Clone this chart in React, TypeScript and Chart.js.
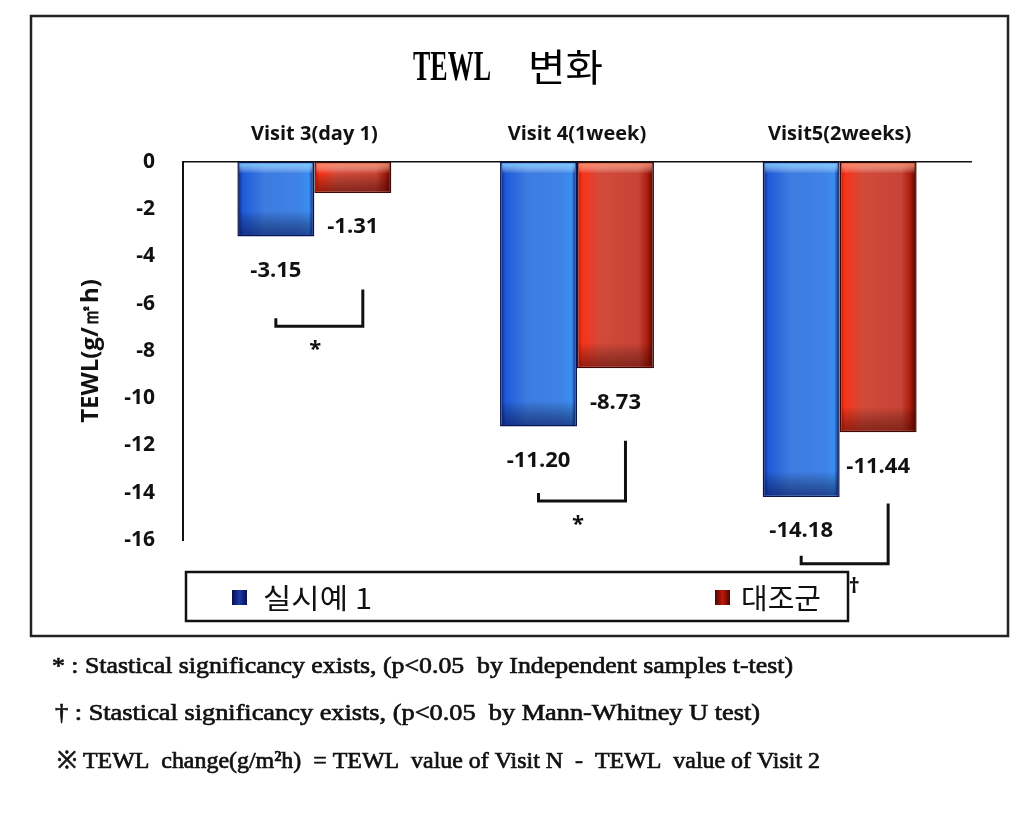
import React, { useEffect, useRef } from 'react';
import { Chart, registerables } from 'chart.js';

Chart.register(...registerables);

// ---------- data ----------
const categories = ['Visit 3(day 1)', 'Visit 4(1week)', 'Visit5(2weeks)'];
const seriesNames = ['실시예 1', '대조군'];
const example1Values = [-3.15, -11.2, -14.18];
const controlValues = [-1.31, -8.73, -11.44];
const yMin = -16;
const yMax = 0;
const yStep = 2;
const titleLatin = 'TEWL';
const titleKorean = '변화';
const yAxisTitle = 'TEWL(g/㎡h)';
const sigMarks = ['*', '*', '†'];
const bracketTopValues = [-5.4, -11.8, -14.45];
const bracketBottomValues = [-6.95, -14.35, -17.0];
const footnotes = [
  '* : Stastical significancy exists, (p<0.05  by Independent samples t-test)',
  '† : Stastical significancy exists, (p<0.05  by Mann-Whitney U test)',
  '※ TEWL  change(g/m²h)  = TEWL  value of Visit N  -  TEWL  value of Visit 2',
];

// ---------- styles ----------
const SANS = "'Open Sans', 'Noto Sans', sans-serif";
const KR = "'Noto Sans CJK KR', 'Noto Sans', sans-serif";
const SERIF = "'Liberation Serif', 'DejaVu Serif', serif";

const blueStops: [number, string][] = [
  [0, '#0a1f7a'],
  [0.07, '#1f5ad8'],
  [0.35, '#3d7be0'],
  [0.8, '#3f82e6'],
  [0.93, '#3a8ef2'],
  [1, '#08165e'],
];
const redStops: [number, string][] = [
  [0, '#b81808'],
  [0.07, '#f8341a'],
  [0.3, '#d24a3a'],
  [0.8, '#c84436'],
  [0.92, '#a81c0c'],
  [1, '#480602'],
];
const legendBlueStops: [number, string][] = [
  [0, '#06104a'],
  [0.5, '#1a3aa8'],
  [1, '#06104a'],
];
const legendRedStops: [number, string][] = [
  [0, '#4a0602'],
  [0.5, '#c01a0a'],
  [1, '#4a0602'],
];
const stopSets = [blueStops, redStops];
const legendStopSets = [legendBlueStops, legendRedStops];
const borderColors = ['#0a1450', '#3e0804'];

function makeGrad(ctx: CanvasRenderingContext2D, l: number, r: number, stops: [number, string][]) {
  const g = ctx.createLinearGradient(l, 0, r, 0);
  stops.forEach(([o, c]) => g.addColorStop(o, c));
  return g;
}

function fitText(ctx: CanvasRenderingContext2D, text: string, x: number, y: number, width: number, stroke = 0) {
  const tw = ctx.measureText(text).width;
  ctx.save();
  ctx.translate(x, y);
  ctx.scale(width / tw, 1);
  ctx.fillText(text, 0, 0);
  if (stroke > 0) {
    ctx.lineWidth = stroke;
    ctx.strokeStyle = ctx.fillStyle as string;
    ctx.strokeText(text, 0, 0);
  }
  ctx.restore();
}

const decorPlugin = {
  id: 'decor',
  beforeDatasetsDraw(chart: any) {
    const ctx = chart.ctx as CanvasRenderingContext2D;
    chart.data.datasets.forEach((_ds: any, di: number) => {
      const meta = chart.getDatasetMeta(di);
      meta.data.forEach((bar: any) => {
        const { x, width } = bar.getProps(['x', 'width'], true);
        const g = makeGrad(ctx, x - width / 2, x + width / 2, stopSets[di]);
        bar.options = { ...bar.options, backgroundColor: g };
      });
    });
  },
  afterDatasetsDraw(chart: any) {
    const ctx = chart.ctx as CanvasRenderingContext2D;
    const yScale = chart.scales.y;
    const metas = [chart.getDatasetMeta(0), chart.getDatasetMeta(1)];
    // shading overlays on bars (top highlight, bottom darkening)
    metas.forEach((meta: any, di: number) => {
      meta.data.forEach((bar: any) => {
        const { x, y, base, width } = bar.getProps(['x', 'y', 'base', 'width'], true);
        const l = x - width / 2 + 2;
        const w = width - 4;
        const top = Math.min(y, base) + 1.5;
        const bottom = Math.max(y, base) - 1.5;
        ctx.save();
        const hg = ctx.createLinearGradient(0, top, 0, top + 10);
        hg.addColorStop(0, di === 0 ? 'rgba(120,210,255,0.85)' : 'rgba(255,150,110,0.8)');
        hg.addColorStop(1, 'rgba(255,255,255,0)');
        ctx.fillStyle = hg;
        ctx.fillRect(l, top, w, 10);
        const bh = Math.min(24, bottom - top - 10);
        if (bh > 0) {
          const bg = ctx.createLinearGradient(0, bottom - bh, 0, bottom);
          bg.addColorStop(0, 'rgba(0,0,0,0)');
          bg.addColorStop(1, di === 0 ? 'rgba(5,15,80,0.55)' : 'rgba(70,5,0,0.5)');
          ctx.fillStyle = bg;
          ctx.fillRect(l, bottom - bh, w, bh);
        }
        ctx.restore();
      });
    });

    // value labels
    ctx.save();
    ctx.fillStyle = '#111';
    ctx.font = `bold 22px ${SANS}`;
    ctx.textAlign = 'center';
    ctx.textBaseline = 'middle';
    const values = [example1Values, controlValues];
    metas.forEach((meta: any, di: number) => {
      meta.data.forEach((bar: any, i: number) => {
        const { x, y } = bar.getProps(['x', 'y'], true);
        ctx.fillText(values[di][i].toFixed(2), x, y + 34);
      });
    });
    ctx.restore();

    // significance brackets
    ctx.save();
    ctx.strokeStyle = '#111';
    ctx.lineWidth = 3;
    ctx.fillStyle = '#111';
    sigMarks.forEach((mark, i) => {
      const bx = metas[0].data[i].getProps(['x'], true).x;
      const rx = metas[1].data[i].getProps(['x'], true).x + 10;
      const yt = yScale.getPixelForValue(bracketTopValues[i]);
      const yb = yScale.getPixelForValue(bracketBottomValues[i]);
      ctx.beginPath();
      ctx.moveTo(rx, yt);
      ctx.lineTo(rx, yb);
      ctx.lineTo(bx, yb);
      ctx.lineTo(bx, yb - 8);
      ctx.stroke();
      ctx.font = `bold 22px ${SANS}`;
      ctx.textAlign = 'center';
      ctx.textBaseline = 'middle';
      const mx = (bx + rx) / 2 - 4;
      ctx.fillText(mark, i === 2 ? rx - 34 : mx, yb + (i === 2 ? 23 : 24));
    });
    ctx.restore();
  },
  afterDraw(chart: any) {
    const ctx = chart.ctx as CanvasRenderingContext2D;
    ctx.save();
    // outer frame
    ctx.strokeStyle = '#222';
    ctx.lineWidth = 2.5;
    ctx.strokeRect(31, 16, 977, 620);

    // title
    ctx.fillStyle = '#000';
    ctx.textBaseline = 'alphabetic';
    ctx.textAlign = 'left';
    ctx.font = `bold 42px ${SERIF}`;
    fitText(ctx, titleLatin, 413, 80, 78);
    ctx.font = `400 38px ${KR}`;
    fitText(ctx, titleKorean, 528, 81, 75);

    // legend
    ctx.lineWidth = 2.5;
    ctx.strokeStyle = '#111';
    ctx.strokeRect(186, 572, 662, 49);
    const legendX = [232, 715];
    const textX = [263, 741];
    const textW = [109, 80];
    chart.data.datasets.forEach((ds: any, di: number) => {
      const sx = legendX[di];
      ctx.fillStyle = makeGrad(ctx, sx, sx + 15, legendStopSets[di]);
      ctx.fillRect(sx, 590, 15, 15);
      ctx.fillStyle = '#111';
      ctx.font = `400 28px ${KR}`;
      ctx.textBaseline = 'middle';
      fitText(ctx, ds.label, textX[di], 598, textW[di]);
    });

    // footnotes
    const fx = [52, 55, 57];
    const fy = [667, 714, 762];
    const fw = [741, 705, 763];
    ctx.fillStyle = '#111';
    ctx.textBaseline = 'middle';
    ctx.font = `24px ${SERIF}`;
    footnotes.forEach((t, i) => {
      fitText(ctx, t, fx[i], fy[i], fw[i], 0.7);
    });
    ctx.restore();
  },
};

export default function App() {
  const ref = useRef<HTMLCanvasElement | null>(null);
  useEffect(() => {
    document.body.style.margin = '0';
    const canvas = ref.current;
    if (!canvas) return;
    const chart = new Chart(canvas, {
      type: 'bar',
      data: {
        labels: categories,
        datasets: [
          {
            label: seriesNames[0],
            data: example1Values,
            backgroundColor: '#3d7be0',
            borderColor: borderColors[0],
            borderWidth: 1.5,
            borderSkipped: false,
          },
          {
            label: seriesNames[1],
            data: controlValues,
            backgroundColor: '#d24a3a',
            borderColor: borderColors[1],
            borderWidth: 1.5,
            borderSkipped: false,
          },
        ],
      },
      options: {
        responsive: false,
        animation: false,
        devicePixelRatio: 1,
        categoryPercentage: 0.586,
        barPercentage: 1,
        layout: { padding: { left: 0, top: 0, right: 53, bottom: 293 } },
        plugins: {
          legend: { display: false },
          title: { display: false },
          tooltip: { enabled: false },
        },
        scales: {
          x: {
            position: 'top',
            grid: { display: false, drawTicks: false },
            border: { display: true, color: '#111', width: 1.5 },
            ticks: {
              color: '#111',
              padding: 16,
              font: { family: SANS, size: 20, weight: 'bold' },
            },
            afterFit: (s: any) => {
              s.height = 162;
            },
          },
          y: {
            min: yMin,
            max: yMax,
            grid: { display: false, drawTicks: false },
            border: { display: true, color: '#111', width: 2 },
            ticks: {
              stepSize: yStep,
              color: '#111',
              padding: 28,
              font: { family: SANS, size: 21, weight: 'bold' },
            },
            title: {
              display: true,
              text: yAxisTitle,
              color: '#111',
              font: { family: SANS, size: 24, weight: 'bold' },
              padding: { top: 77, bottom: 0 },
            },
            afterFit: (s: any) => {
              s.width = 183;
            },
          },
        },
      } as any,
      plugins: [decorPlugin],
    });
    return () => chart.destroy();
  }, []);
  return (
    <div style={{ width: 1024, height: 833, background: '#fff' }}>
      <canvas ref={ref} width={1024} height={833} style={{ display: 'block', width: 1024, height: 833 }} />
    </div>
  );
}
